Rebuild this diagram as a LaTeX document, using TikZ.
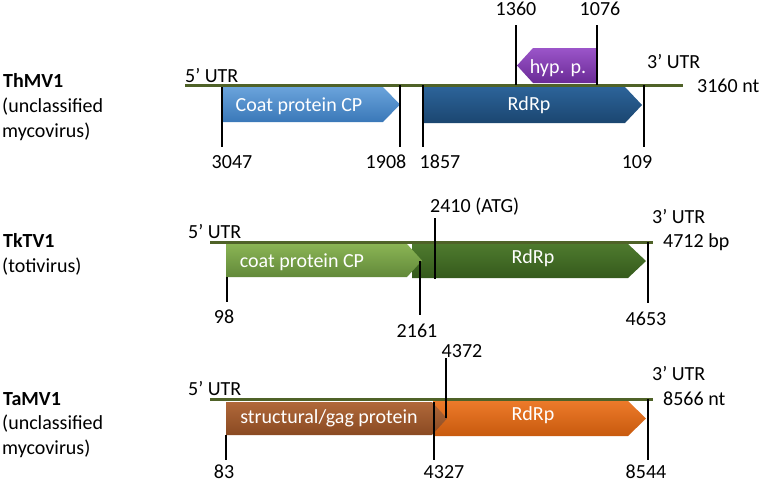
\documentclass[tikz,border=0pt]{standalone}
\usepackage{fontspec}
\setmainfont{Carlito}
\definecolor{genomegreen}{HTML}{4F6228}

\begin{document}
\begin{tikzpicture}[x=1pt,y=-1pt,
  every node/.style={font=\fontsize{20}{24}\selectfont, inner sep=0pt},
  lbl/.style={anchor=base},
  lblw/.style={anchor=base west},
  inlbl/.style={anchor=base, text=white},
  genome/.style={draw=genomegreen, line width=3pt},
  tickline/.style={draw=black, line width=1.2pt},
  cpblue/.style={top color={rgb,255:red,106;green,163;blue,219}, bottom color={rgb,255:red,58;green,120;blue,184}},
  rdblue/.style={top color={rgb,255:red,44;green,99;blue,153}, bottom color={rgb,255:red,27;green,70;blue,112}},
  hyppurple/.style={top color={rgb,255:red,155;green,85;blue,201}, bottom color={rgb,255:red,106;green,42;blue,150}},
  cpgreen/.style={top color={rgb,255:red,138;green,180;blue,84}, bottom color={rgb,255:red,98;green,137;blue,58}},
  rdgreen/.style={top color={rgb,255:red,78;green,122;blue,46}, bottom color={rgb,255:red,53;green,90;blue,28}},
  gagbrown/.style={top color={rgb,255:red,176;green,104;blue,58}, bottom color={rgb,255:red,138;green,74;blue,34}},
  rdorange/.style={top color={rgb,255:red,236;green,122;blue,42}, bottom color={rgb,255:red,200;green,90;blue,14}}]
  \useasboundingbox (0,0) rectangle (760,483);

  % ThMV1
  \node[lblw] (thmv) at (3,87) {\bfseries ThMV1};
  \node[lblw] (thmvA) at (2,112) {(unclassified};
  \node[lblw] (thmvB) at (2,137) {mycovirus)};
  \draw[genome] (185,85) -- (683,85);
  \node[lblw] (utr5a) at (185,82) {5\textquoteright\ UTR};
  \node[lblw] (utr3a) at (647,68) {3\textquoteright\ UTR};
  \node[lblw] (lena) at (697,92) {3160 nt};
  \path[cpblue] (222,87) -- (383,87) -- (400,104.5) -- (383,122) -- (222,122) -- cycle;
  \path[rdblue] (423,87) -- (625,87) -- (642,105) -- (625,123) -- (423,123) -- cycle;
  \path[hyppurple] (597,48) -- (533,48) -- (517,65.5) -- (533,83) -- (597,83) -- cycle;
  \node[inlbl] (cpa) at (299,111) {Coat protein CP};
  \node[inlbl] (rda) at (529,110) {RdRp};
  \node[inlbl] (hyp) at (558,73) {hyp. p.};
  \draw[tickline] (222,87) -- (222,147);
  \draw[tickline] (400,85) -- (400,147);
  \draw[tickline] (423,85) -- (423,147);
  \draw[tickline] (644,85) -- (644,147);
  \draw[tickline] (516,25) -- (516,85);
  \draw[tickline] (597,25) -- (597,85);
  \node[lbl] (p3047) at (232,168) {3047};
  \node[lbl] (p1908) at (386,168) {1908};
  \node[lbl] (p1857) at (440,168) {1857};
  \node[lbl] (p109) at (637,168) {109};
  \node[lbl] (p1360) at (516,15) {1360};
  \node[lbl] (p1076) at (600,15) {1076};

  % TkTV1
  \node[lblw] (tktv) at (3,247) {\bfseries TkTV1};
  \node[lblw] (tktvA) at (2,272) {(totivirus)};
  \draw[genome] (210,242) -- (653,242);
  \node[lblw] (utr5b) at (188,238) {5\textquoteright\ UTR};
  \node[lblw] (utr3b) at (652,223) {3\textquoteright\ UTR};
  \node[lblw] (lenb) at (663,247) {4712 bp};
  \path[rdgreen] (412,244) -- (628,244) -- (646,261) -- (628,278) -- (412,278) -- cycle;
  \path[cpgreen] (226,244) -- (407,244) -- (422,260.5) -- (407,277) -- (226,277) -- cycle;
  \node[inlbl] (cpb) at (302,267) {coat protein CP};
  \node[inlbl] (rdb) at (533,263) {RdRp};
  \draw[tickline] (227,277) -- (227,302);
  \draw[tickline] (420,261) -- (420,315);
  \draw[tickline] (435,218) -- (435,279);
  \draw[tickline] (648,242) -- (648,303);
  \node[lbl] (p98) at (224,323) {98};
  \node[lbl] (p2161) at (417,337) {2161};
  \node[lblw] (p2410) at (430,212) {2410 (ATG)};
  \node[lbl] (p4653) at (646,325) {4653};

  % TaMV1
  \node[lblw] (tamv) at (3,405) {\bfseries TaMV1};
  \node[lblw] (tamvA) at (2,429) {(unclassified};
  \node[lblw] (tamvB) at (2,454) {mycovirus)};
  \draw[genome] (210,399) -- (653,399);
  \node[lblw] (utr5c) at (188,395) {5\textquoteright\ UTR};
  \node[lblw] (utr3c) at (652,380) {3\textquoteright\ UTR};
  \node[lblw] (lenc) at (663,405) {8566 nt};
  \path[rdorange] (433,401) -- (628,401) -- (646,418.5) -- (628,436) -- (433,436) -- cycle;
  \path[gagbrown] (226,402) -- (432,402) -- (447,418.5) -- (432,435) -- (226,435) -- cycle;
  \node[inlbl] (gag) at (329,423) {structural/gag protein};
  \node[inlbl] (rdc) at (533,420) {RdRp};
  \draw[tickline] (226,435) -- (226,460);
  \draw[tickline] (446,358) -- (446,418);
  \draw[tickline] (434,402) -- (434,460);
  \draw[tickline] (648,399) -- (648,460);
  \node[lbl] (p83) at (224,478) {83};
  \node[lbl] (p4327) at (444,478) {4327};
  \node[lbl] (p4372) at (462,357) {4372};
  \node[lbl] (p8544) at (646,478) {8544};
\end{tikzpicture}
\end{document}
